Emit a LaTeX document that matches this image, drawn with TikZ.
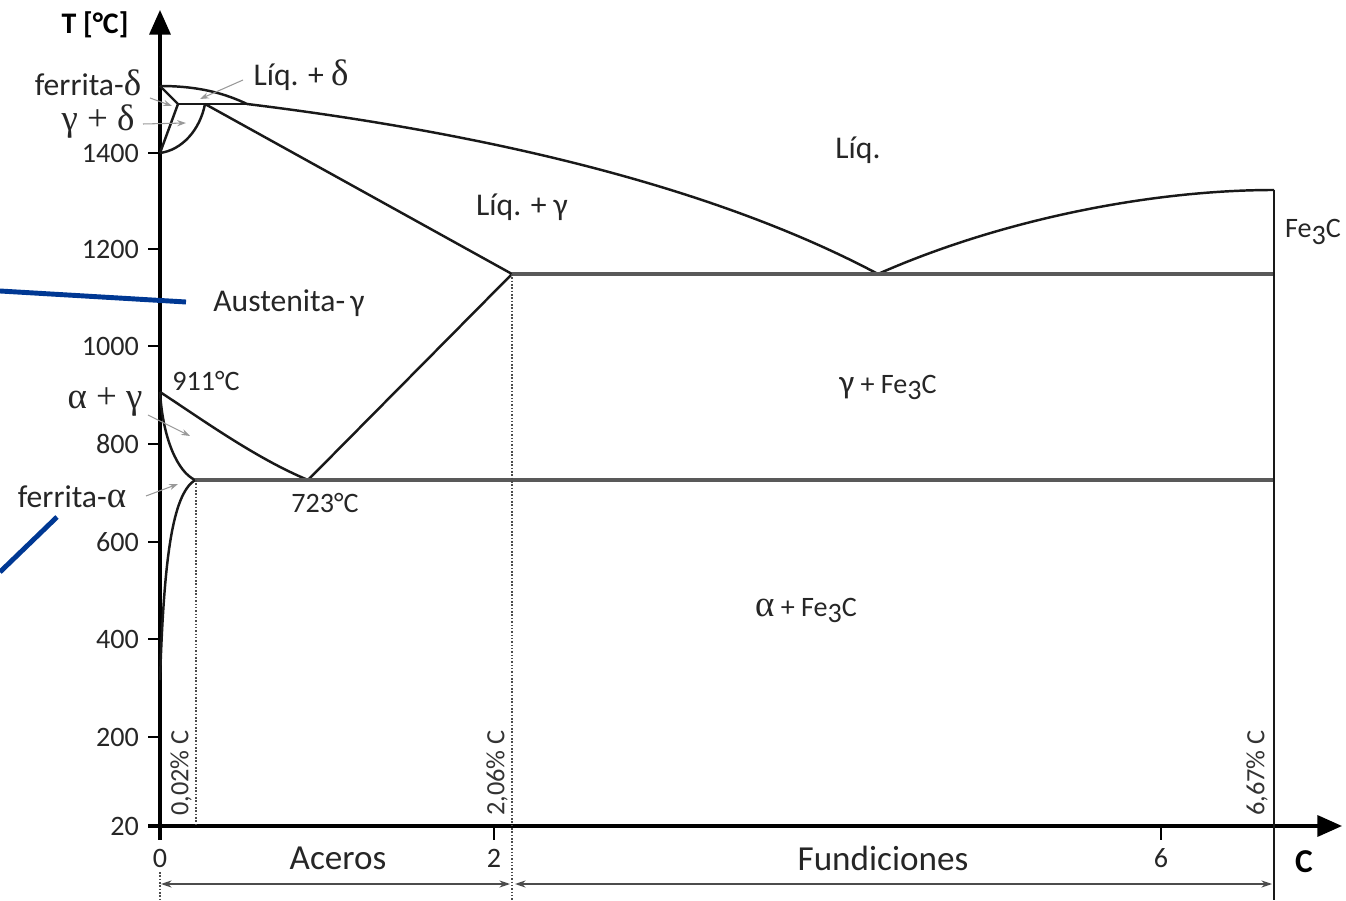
\documentclass[tikz,border=0pt]{standalone}
\usepackage{fontspec}
\setmainfont{Carlito}
\newfontfamily\grk{Liberation Serif}
\usepackage{xcolor}
\definecolor{markblue}{RGB}{0,56,147}
\usetikzlibrary{arrows.meta, positioning}
\newcommand{\fethreec}{Fe\raisebox{-0.45ex}{3}C}

\begin{document}
\begin{tikzpicture}[
    x=0.02cm, y=-0.02cm,
    font=\fontsize{18}{20}\selectfont,
    lbl/.style={text=black!85, inner sep=1pt},
    ticklbl/.style={font=\fontsize{16}{18}\selectfont, text=black!85, inner sep=1pt},
    pct/.style={font=\fontsize{15}{16}\selectfont, text=black!80, rotate=90, inner sep=1pt},
    axisline/.style={line width=1.8pt, -{Triangle[length=14pt, width=12pt]}},
    tickline/.style={line width=1.6pt},
    phase/.style={line width=1.4pt, black!90},
    iso/.style={line width=1.8pt, black!65},
    dots/.style={densely dotted, line width=0.9pt, black!70},
    lead/.style={-{Stealth[length=5pt, width=3.5pt]}, gray!80, line width=0.6pt},
    span/.style={{Stealth[length=6pt, width=4pt]}-{Stealth[length=6pt, width=4pt]}, black!70, line width=0.8pt},
    blueline/.style={line width=2.8pt, markblue}
  ]
  \useasboundingbox (0,0) rectangle (1346,901);

  % key points of the diagram
  \coordinate (top)   at (160,86);
  \coordinate (dcor)  at (178,104);
  \coordinate (peri)  at (205,104);
  \coordinate (liqd)  at (247,104);
  \coordinate (g1400) at (160,153);
  \coordinate (a911)  at (160,392);
  \coordinate (asol)  at (195,480);
  \coordinate (aend)  at (160,680);
  \coordinate (eutd)  at (308,480);
  \coordinate (acm)   at (512,274);
  \coordinate (eut)   at (878,274);
  \coordinate (cemt)  at (1274,190);
  \coordinate (ceme)  at (1274,274);
  \coordinate (cemd)  at (1274,480);
  \coordinate (cemb)  at (1274,900);

  % axes
  \draw[axisline] (160,840) -- (160,10);
  \draw[axisline] (148,826) -- (1342,826);
  \node[font=\bfseries\fontsize{17}{18}\selectfont] (tlab) at (95,25) {T [°C]};
  \node[font=\bfseries\fontsize{19}{20}\selectfont] (clab) at (1304,862) {C};

  \foreach \y/\t in {153/1400, 249/1200, 346/1000, 444/800, 542/600, 639/400, 737/200, 826/20}{
    \draw[tickline] (148,\y) -- (160,\y);
    \node[ticklbl, anchor=east] (y\t) at (141,\y) {\t};
  }
  \foreach \x/\t in {160/0, 494/2, 1161/6}{
    \draw[tickline] (\x,826) -- (\x,840);
    \node[ticklbl] (x\t) at (\x,858) {\t};
  }

  % phase boundaries
  \draw[phase] (top) .. controls (200,86) and (226,94) .. (liqd);
  \draw[phase] (liqd) .. controls (500,135) and (720,190) .. (eut);
  \draw[phase] (eut) .. controls (1000,220) and (1150,190) .. (cemt);
  \draw[phase] (top) -- (dcor) -- (g1400);
  \draw[phase] (g1400) .. controls (182,150) and (200,130) .. (peri);
  \draw[phase] (dcor) -- (liqd);
  \draw[phase] (peri) -- (acm) -- (eutd);
  \draw[phase] (a911) .. controls (200,418) and (255,458) .. (eutd);
  \draw[phase] (a911) .. controls (163,440) and (178,472) .. (asol);
  \draw[phase] (asol) .. controls (172,495) and (164,560) .. (aend);
  \draw[iso] (acm) -- (ceme);
  \draw[iso] (asol) -- (cemd);
  \draw[phase] (cemt) -- (cemb);

  % composition markers
  \draw[dots] (196,480) -- (196,826);
  \draw[dots] (acm) -- (512,900);
  \draw[dots] (160,872) -- (160,900);
  \node[pct] (p002) at (181,773) {0,02\% C};
  \node[pct] (p206) at (497,773) {2,06\% C};
  \node[pct] (p667) at (1257,773) {6,67\% C};

  % steel / cast iron ranges
  \coordinate (s0) at (161,884);
  \coordinate (s1) at (510,884);
  \coordinate (f0) at (515,884);
  \coordinate (f1) at (1272,884);
  \draw[span] (s0) -- (s1);
  \draw[span] (f0) -- (f1);
  \node[lbl, font=\fontsize{20}{22}\selectfont] (acero) at (338,858) {Aceros};
  \node[lbl, font=\fontsize{20}{22}\selectfont] (fund) at (883,858) {Fundiciones};

  % region labels
  \node[lbl] (liq)   at (858,150) {Líq.};
  \node[lbl] (liqg)  at (522,207) {Líq. + γ};
  \node[lbl] (liqdl) at (301,75)  {Líq. + {\grk\fontsize{21}{22}\selectfont δ}};
  \node[lbl, font=\fontsize{16}{18}\selectfont] (fe3c) at (1313,232) {\fethreec};
  \node[lbl] (aust)  at (289,303) {Austenita-\,γ};
  \node[lbl, font=\fontsize{16}{18}\selectfont] (gfe) at (888,387) {{\fontsize{19}{20}\selectfont γ} + \fethreec};
  \node[lbl, font=\fontsize{16}{18}\selectfont] (afe) at (806,610) {{\grk\fontsize{21}{22}\selectfont α} + \fethreec};
  \node[lbl, font=\fontsize{16}{18}\selectfont] (t911) at (206,381) {911°C};
  \node[lbl, font=\fontsize{16}{18}\selectfont] (t723) at (325,503) {723°C};
  \node[lbl] (ferd)  at (88,83)   {ferrita-{\grk\fontsize{21}{22}\selectfont δ}};
  \node[lbl, font=\grk\fontsize{21}{22}\selectfont] (gd) at (98,122) {γ + δ};
  \node[lbl, font=\grk\fontsize{21}{22}\selectfont] (ag) at (105,402) {α + γ};
  \node[lbl] (fera)  at (72,497)  {ferrita-{\grk\fontsize{21}{22}\selectfont α}};

  % leaders into the small fields
  \coordinate (inferd) at (172,106);
  \coordinate (ingd)   at (186,123);
  \coordinate (inliqd) at (200,99);
  \coordinate (inag)   at (190,436);
  \coordinate (infera) at (178,484);
  \draw[lead] (150,98) -- (inferd);
  \draw[lead] (143,124) -- (ingd);
  \draw[lead] (243,80) -- (inliqd);
  \draw[lead] (148,415) -- (inag);
  \draw[lead] (146,496) -- (infera);

  % blue marks
  \coordinate (b1) at (0,291);
  \coordinate (b2) at (186,302);
  \coordinate (b3) at (0,572);
  \coordinate (b4) at (57,517);
  \draw[blueline] (b1) -- (b2);
  \draw[blueline] (b3) -- (b4);

\end{tikzpicture}
\end{document}
